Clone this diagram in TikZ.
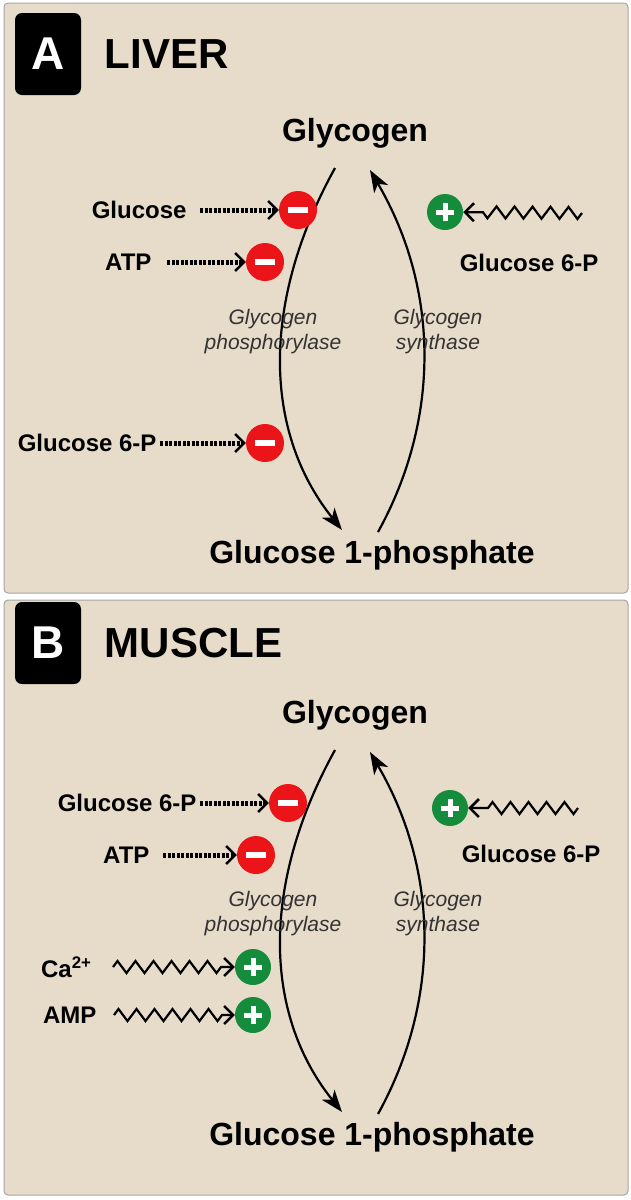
\documentclass[tikz,border=0pt]{standalone}
\usepackage{fontspec}
\setmainfont{Liberation Sans}
\usetikzlibrary{
positioning,%
decorations.pathmorphing,%
arrows.meta
}
\tikzset{
    panel/.style={draw=gray!70, fill=panelbg, rounded corners=4pt, line width=1pt},
    tag/.style={fill=black, text=white, rounded corners=7pt, minimum width=66pt, minimum height=82pt, inner sep=0pt, font=\fontsize{46}{46}\selectfont\bfseries},
    title/.style={anchor=west, font=\fontsize{42}{42}\selectfont\bfseries},
    met/.style={font=\fontsize{32}{32}\selectfont\bfseries},
    eff/.style={font=\fontsize{24}{24}\selectfont\bfseries},
    enz/.style={align=center, font=\fontsize{21}{25}\selectfont\itshape, text=black!80},
    minus/.style={circle, fill=inhred, minimum size=38pt, inner sep=0pt,
        path picture={\fill[white] ([xshift=-10pt,yshift=-3pt]path picture bounding box.center) rectangle ++(20pt,6pt);}},
    plus/.style={circle, fill=actgreen, minimum size=36pt, inner sep=0pt,
        path picture={\fill[white] ([xshift=-9pt,yshift=-2.5pt]path picture bounding box.center) rectangle ++(18pt,5pt);
                      \fill[white] ([xshift=-2.5pt,yshift=-9pt]path picture bounding box.center) rectangle ++(5pt,18pt);}},
    flux/.style={-{Stealth[length=22pt,width=16pt,inset=6pt]}, line width=2.2pt},
    block/.style={-{Straight Barb[length=9pt,width=18pt,line width=2.5pt]}, line width=5pt, dash pattern=on 3pt off 1.5pt},
    wave/.style={-{Straight Barb[length=9pt,width=18pt,line width=2.5pt]}, line width=2.2pt, decorate,
        decoration={zigzag, amplitude=6pt, segment length=18pt, post length=12pt}}
}
\definecolor{panelbg}{RGB}{231,219,201}
\definecolor{inhred}{RGB}{235,20,25}
\definecolor{actgreen}{RGB}{20,140,60}
% common part of both panels: metabolites, the two arcs, enzyme names
\newcommand{\cycle}[1]{%
    \node[met] (gly#1) at (355,133) {Glycogen};
    \node[met] (g1p#1) at (372,555) {Glucose 1-phosphate};
    \coordinate (ltop#1) at (335,168);
    \coordinate (rbot#1) at (378,532);
    \draw[flux] (ltop#1) .. controls (262,300) and (262,430) .. (342,530);
    \draw[flux] (rbot#1) .. controls (440,420) and (440,290) .. (370,170);
    \node[enz] (ph#1) at (273,332) {Glycogen\\phosphorylase};
    \node[enz] (sy#1) at (438,332) {Glycogen\\synthase};
}
\begin{document}
\begin{tikzpicture}[x=1pt, y=-1pt]
    \useasboundingbox[fill=white] (0,0) rectangle (631,1200);
    % A: liver
    \draw[panel] (4,3) rectangle (628,593);
    \node[tag] (tagA) at (48,54) {A};
    \node[title, right=20pt of tagA] (liver) {LIVER};
    \cycle{A}
    \node[minus] (mA1) at (298,210) {};
    \node[minus] (mA2) at (265,262) {};
    \node[minus] (mA3) at (265,443) {};
    \node[eff, anchor=east] (glcA) at (190,210) {Glucose};
    \node[eff, anchor=east] (atpA) at (155,262) {ATP};
    \node[eff, anchor=east] (g6pA) at (160,443) {Glucose 6-P};
    \draw[block] (glcA.east) ++(10pt,0) -- (mA1);
    \draw[block] (atpA.east) ++(12pt,0) -- (mA2);
    \draw[block] (g6pA) -- (mA3);
    \node[plus] (pA) at (445,212) {};
    \coordinate (wA) at (582,213);
    \draw[wave] (wA) -- (pA);
    \node[eff, anchor=east] (g6pAr) at (602,263) {Glucose 6-P};
    % B: muscle
    \draw[panel] (4,600) rectangle (628,1195);
    \node[tag] (tagB) at (48,643) {B};
    \node[title, right=20pt of tagB] (muscle) {MUSCLE};
    \begin{scope}[shift={(0,582)}]
        \cycle{B}
        \node[minus] (mB1) at (288,221) {};
        \node[minus] (mB2) at (256,273) {};
        \node[plus] (pB1) at (253,385) {};
        \node[plus] (pB2) at (253,433) {};
        \node[eff, anchor=east] (g6pB) at (200,221) {Glucose 6-P};
        \node[eff, anchor=east] (atpB) at (153,273) {ATP};
        \node[eff, anchor=east] (caB) at (95,385) {Ca\textsuperscript{2+}};
        \node[eff, anchor=east] (ampB) at (100,433) {AMP};
        \draw[block] (g6pB) -- (mB1);
        \draw[block] (atpB.east) ++(10pt,0) -- (mB2);
        \draw[wave] (caB.east) ++(18pt,0) -- (pB1);
        \draw[wave] (ampB.east) ++(14pt,0) -- (pB2);
        \node[plus] (pB) at (450,226) {};
        \coordinate (wB) at (578,226);
        \draw[wave] (wB) -- (pB);
        \node[eff, anchor=east] (g6pBr) at (604,272) {Glucose 6-P};
    \end{scope}
\end{tikzpicture}
\end{document}
